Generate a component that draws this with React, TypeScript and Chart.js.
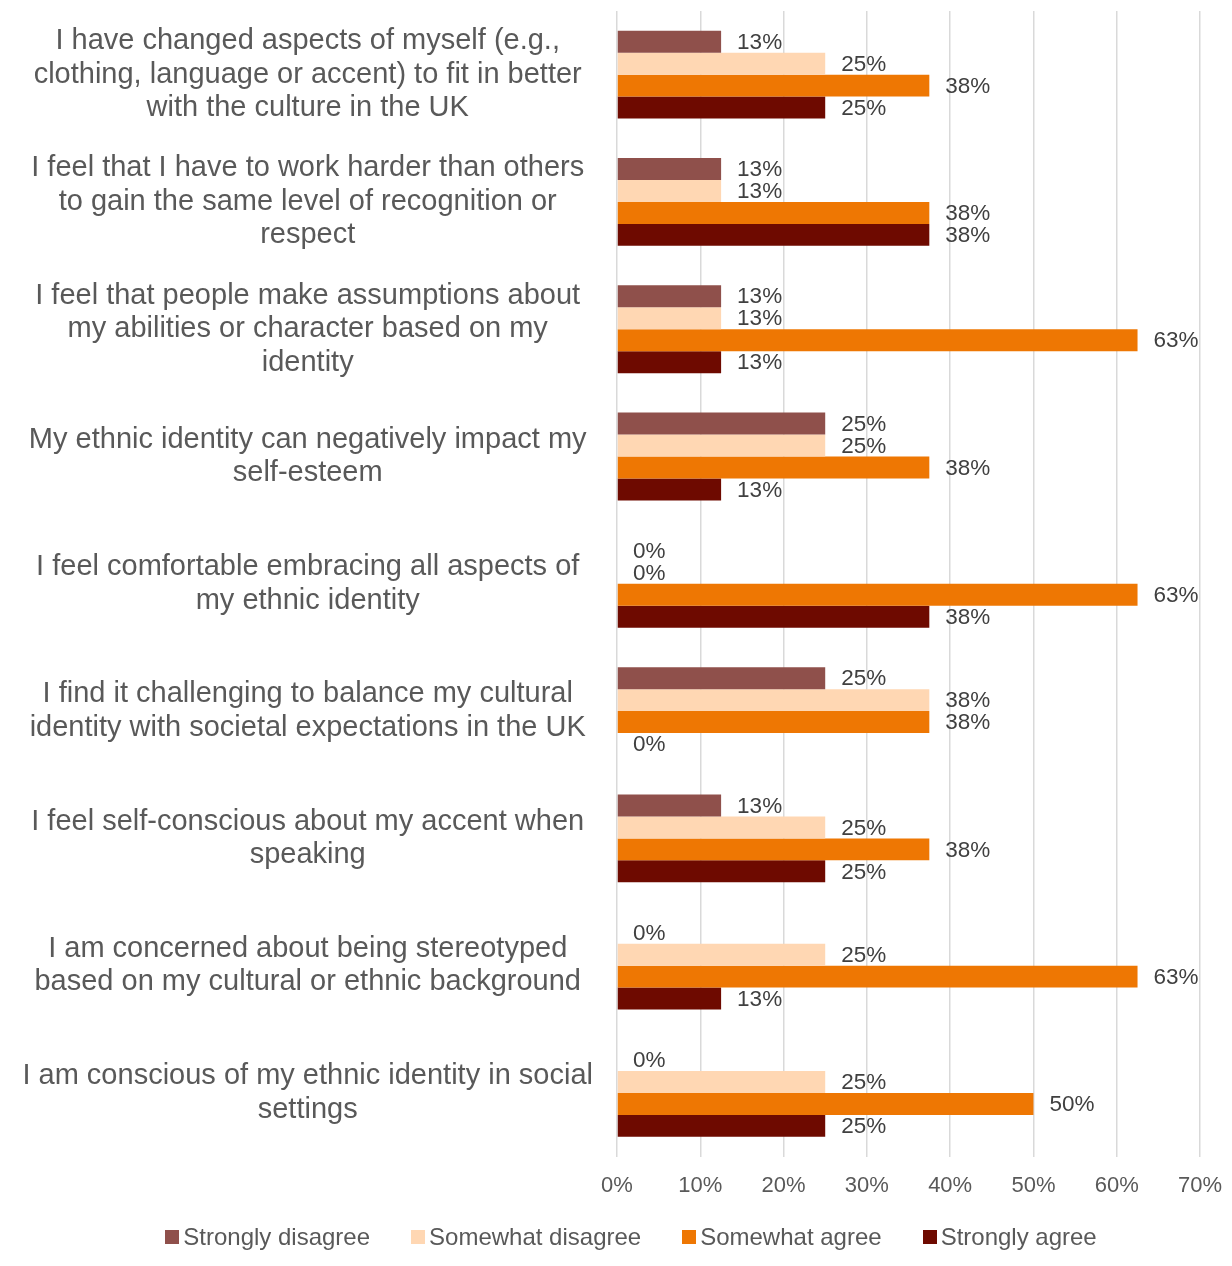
import React, { useEffect, useRef } from "react";
import { Chart, registerables } from "chart.js";

Chart.register(...registerables);

const categories: string[][] = [
  ["I have changed aspects of myself (e.g.,", "clothing, language or accent) to fit in better", "with the culture in the UK"],
  ["I feel that I have to work harder than others", "to gain the same level of recognition or", "respect"],
  ["I feel that people make assumptions about", "my abilities or character based on my", "identity"],
  ["My ethnic identity can negatively impact my", "self-esteem"],
  ["I feel comfortable embracing all aspects of", "my ethnic identity"],
  ["I find it challenging to balance my cultural", "identity with societal expectations in the UK"],
  ["I feel self-conscious about my accent when", "speaking"],
  ["I am concerned about being stereotyped", "based on my cultural or ethnic background"],
  ["I am conscious of my ethnic identity in social", "settings"],
];

const seriesNames = ["Strongly disagree", "Somewhat disagree", "Somewhat agree", "Strongly agree"];
const stronglyDisagree = [12.5, 12.5, 12.5, 25, 0, 25, 12.5, 0, 0];
const somewhatDisagree = [25, 12.5, 12.5, 25, 0, 37.5, 25, 25, 25];
const somewhatAgree = [37.5, 37.5, 62.5, 37.5, 62.5, 37.5, 37.5, 62.5, 50];
const stronglyAgree = [25, 37.5, 12.5, 12.5, 37.5, 0, 25, 12.5, 25];
const seriesColors = ["#8F504B", "#FFD7B3", "#EE7703", "#6E0A00"];
const xTicks = [0, 10, 20, 30, 40, 50, 60, 70];

const FONT = "'Liberation Sans', Arial, sans-serif";

const valueLabels = {
  id: "valueLabels",
  afterDatasetsDraw(chart: any) {
    const ctx = chart.ctx;
    ctx.save();
    ctx.font = `22.5px ${FONT}`;
    ctx.fillStyle = "#404040";
    ctx.textAlign = "left";
    ctx.textBaseline = "middle";
    chart.data.datasets.forEach((ds: any, di: number) => {
      const meta = chart.getDatasetMeta(di);
      meta.data.forEach((el: any, i: number) => {
        const v = ds.data[i];
        ctx.fillText(Math.round(v) + "%", el.x + 16, el.y + 1);
      });
    });
    ctx.restore();
  },
};

export default function App() {
  const ref = useRef<HTMLCanvasElement>(null);
  useEffect(() => {
    if (!ref.current) return;
    const seriesData = [stronglyDisagree, somewhatDisagree, somewhatAgree, stronglyAgree];
    const chart = new Chart(ref.current, {
      type: "bar",
      data: {
        labels: categories,
        datasets: seriesNames.map((name, i) => ({
          label: name,
          data: seriesData[i],
          backgroundColor: seriesColors[i],
          borderWidth: 0,
          categoryPercentage: 0.69,
          barPercentage: 1,
        })),
      },
      options: {
        indexAxis: "y",
        animation: false,
        responsive: true,
        maintainAspectRatio: false,
        layout: { padding: { top: 3, right: 0, left: 0, bottom: 14 } },
        plugins: {
          legend: { display: false },
          tooltip: { enabled: false },
        },
        scales: {
          x: {
            min: 0,
            max: 70,
            afterBuildTicks: (scale: any) => {
              scale.ticks = xTicks.map((v) => ({ value: v }));
            },
            afterFit: (scale: any) => {
              scale.paddingRight = 24;
              scale.paddingLeft = 0;
            },
            grid: { color: "#D9D9D9", lineWidth: 1.5, drawTicks: false },
            border: { display: false },
            ticks: {
              padding: 16,
              color: "#595959",
              font: { size: 22, family: FONT },
              callback: (v: any) => v + "%",
            },
          },
          y: {
            grid: { display: false, drawTicks: false },
            border: { display: false },
            afterFit: (scale: any) => {
              scale.width = 609;
              scale.paddingTop = 0;
              scale.paddingBottom = 0;
            },
            ticks: {
              crossAlign: "center",
              padding: 24,
              color: "#595959",
              font: { size: 29, family: FONT, lineHeight: 1.155 },
              autoSkip: false,
            },
          },
        },
      },
      plugins: [valueLabels],
    });
    return () => chart.destroy();
  }, []);
  return (
    <div style={{ width: 1216 }}>
      <div style={{ width: 1216, height: 1221 }}>
        <canvas ref={ref} />
      </div>
      <div
        style={{
          display: "flex",
          justifyContent: "center",
          alignItems: "center",
          paddingLeft: 30,
          height: 36,
          marginTop: -10,
          fontFamily: FONT,
          fontSize: 24,
          lineHeight: "28px",
          color: "#595959",
        }}
      >
        {seriesNames.map((name, i) => (
          <div
            key={name}
            style={{
              display: "flex",
              alignItems: "center",
              marginRight: i < seriesNames.length - 1 ? 41 : 0,
            }}
          >
            <span
              style={{
                display: "inline-block",
                width: 14,
                height: 14,
                background: seriesColors[i],
                marginRight: 4,
              }}
            />
            <span>{name}</span>
          </div>
        ))}
      </div>
    </div>
  );
}
